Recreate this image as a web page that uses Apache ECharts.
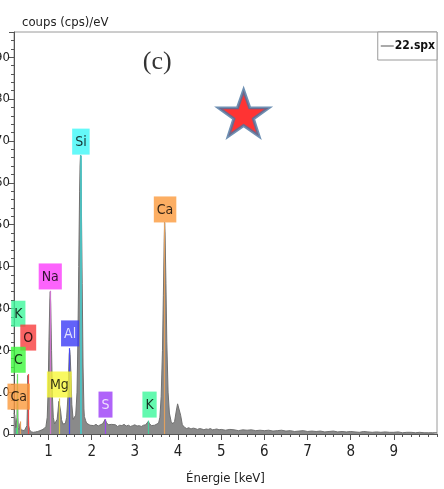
<!DOCTYPE html>
<html>
<head>
<meta charset="utf-8">
<script src="https://cdn.jsdelivr.net/npm/echarts@6/dist/echarts.min.js"></script>
<style>html,body{margin:0;padding:0;background:#fff}#c{width:444px;height:489px}</style>
</head>
<body>
<div id="c"></div>
<script>
// ---- data ----
const energies = [0.20,0.22,0.24,0.26,0.27,0.28,0.29,0.30,0.32,0.34,0.36,0.40,0.44,0.48,0.50,0.51,0.52,0.53,0.54,0.56,0.60,0.65,0.70,0.75,0.80,0.85,0.90,0.94,0.97,0.99,1.01,1.03,1.04,1.05,1.07,1.09,1.11,1.14,1.17,1.20,1.22,1.24,1.25,1.26,1.28,1.30,1.33,1.36,1.39,1.42,1.45,1.47,1.48,1.49,1.50,1.52,1.54,1.57,1.60,1.63,1.66,1.68,1.70,1.72,1.73,1.74,1.75,1.76,1.78,1.80,1.82,1.83,1.84,1.86,1.88,1.92,1.96,2.00,
2.05,2.10,2.15,2.20,2.25,2.28,2.31,2.34,2.38,2.42,2.46,2.50,2.55,2.60,2.65,2.70,2.75,2.80,2.85,2.90,2.95,3.00,3.05,3.10,3.15,3.20,3.25,3.28,3.31,3.34,3.38,3.42,3.46,3.50,3.55,
3.58,3.61,3.64,3.66,3.68,3.69,3.70,3.72,3.74,3.77,3.80,3.84,3.88,3.92,3.96,3.99,4.01,4.03,4.06,4.10,
4.15,4.20,4.25,4.30,4.35,4.40,4.45,4.50,4.55,4.60,4.65,4.70,4.75,4.80,4.85,4.90,4.95,5.00,5.1,5.2,5.3,5.4,5.5,5.6,5.7,5.8,5.9,6.0,6.1,6.2,6.3,6.4,6.5,6.6,6.7,6.8,6.9,7.0,7.1,7.2,7.3,7.4,7.5,7.6,7.7,7.8,7.9,8.0,8.1,8.2,8.3,8.4,8.5,8.6,8.7,8.8,8.9,9.0,9.1,9.2,9.3,9.4,9.5,9.6,9.7,9.8,9.9,10.0];
const counts = [5,4.5,1.5,1.2,4,13,4,1.5,1,2.5,1,0.6,0.8,1,2,6,14,6,2,1,0.5,0.4,0.5,0.6,0.8,1.0,1.3,1.8,4,10,22,32,34,31,20,9,4,2.4,2.6,3.5,5.5,7.8,8.2,7.8,5.5,3.5,2.4,2.0,2.5,4,9,16,19,20,19,14,7,3.5,3.2,4.5,10,22,40,58,64,66.5,64,56,36,16,6,4.2,4,3.2,2.6,2.3,2.1,2.3,
2.0,2.3,1.9,2.2,2.4,2.9,3.5,2.8,2.2,1.9,2.3,2.0,2.2,1.8,2.1,2.0,2.3,1.9,2.1,1.8,2.0,2.2,1.9,2.0,1.8,2.1,2.2,2.6,3.0,2.5,2.0,1.9,2.1,2.2,2.6,
4,9,20,33,46,50.5,48,36,22,10,5,3,2.4,3,5.5,7.2,7.5,7,4.5,2.2,
1.6,1.3,1.5,1.2,1.4,1.3,1.1,1.3,1.2,1.0,1.2,1.1,1.3,1.0,1.1,1.2,1.0,1.1,0.9,1.1,1.0,0.8,1.0,0.9,1.0,0.8,0.9,0.8,0.9,0.7,0.8,0.9,0.7,0.8,0.6,0.7,0.8,0.6,0.7,0.6,0.7,0.5,0.6,0.7,0.5,0.6,0.5,0.6,0.5,0.4,0.6,0.5,0.4,0.5,0.4,0.5,0.4,0.4,0.5,0.3,0.4,0.4,0.3,0.4,0.3,0.3,0.3,0.3];

const elements       = ['Si','Ca','Na','Al','Mg','S','K','K','O','C','Ca'];
const lineEnergies   = [1.74,3.69,1.04,1.49,1.25,2.31,3.31,0.26,0.525,0.28,0.34];
const lineHeights    = [66.5,50.5,34.2,20.5,8.5,3.5,3.2,1.5,14.3,14.3,3];
const labelEnergies  = [1.75,3.70,1.04,1.50,1.25,2.32,3.34,0.30,0.53,0.30,0.31];
const labelHeights   = [66.6,50.4,34.4,20.8,8.6,3.8,3.8,25.5,19.8,14.5,5.7];

const yTicks = [0,10,20,30,40,50,60,70,80,90];
const xTickLabels = [1,2,3,4,5,6,7,8,9];
const seriesName = '22.spx';
const panelTag = '(c)';
const tagPos = [3.52, 88.8];
const starPos = [5.52, 76.6];

// ---- styles ----
const styles = {
  Si: {bg:'#3ff7f7', fg:'#000', line:'#4cc4c4'},
  Ca: {bg:'#fb9a3c', fg:'#000', line:'#e0a060'},
  Na: {bg:'#fb3cfb', fg:'#000', line:'#cc77cc'},
  Al: {bg:'#3b3bf6', fg:'#fff', line:'#4848f0'},
  Mg: {bg:'#f7f73a', fg:'#000', line:'#d4cc48'},
  S:  {bg:'#9b3cf7', fg:'#fff', line:'#9a48f0'},
  K:  {bg:'#3cf79b', fg:'#000', line:'#44cc99'},
  O:  {bg:'#f73c3c', fg:'#000', line:'#f04848'},
  C:  {bg:'#3cf73c', fg:'#000', line:'#66e066'}
};
const FONT = "'DejaVu Sans Condensed','Liberation Sans Narrow','Open Sans',sans-serif";

const spectrum = energies.map((e,i)=>[e, counts[i]]);
const markLines = elements.map((el,i)=>[
  {coord:[lineEnergies[i],0], lineStyle:{color:styles[el].line, width: el==='Si'?1.8:1.2, type:'solid'}},
  {coord:[lineEnergies[i],lineHeights[i]]}
]);
const labelData = elements.map((el,i)=>({
  value:[labelEnergies[i], labelHeights[i]],
  label:{show:true, formatter: el, backgroundColor: styles[el].bg, color: styles[el].fg}
}));

const chart = echarts.init(document.getElementById('c'), null, {renderer:'canvas'});
chart.setOption({
  animation:false,
  backgroundColor:'#fff',
  title:{text:'coups (cps)/eV', left:17, top:11,
    textStyle:{fontFamily:FONT, fontSize:13, fontWeight:'normal', color:'#222'}},
  legend:{data:[seriesName], right:7, top:32, orient:'vertical',
    borderColor:'#9a9a9a', borderWidth:1, borderRadius:0, backgroundColor:'#fff',
    padding:[8,2,8,3], itemWidth:13, itemHeight:1, itemGap:0, icon:'rect',
    textStyle:{fontFamily:FONT, fontSize:12, fontWeight:'bold', color:'#111', padding:[0,0,0,-4]}},
  grid:{left:14, right:7, top:32, bottom:55, containLabel:false, outerBoundsMode:'none',
    show:true, borderColor:'#9a9a9a', borderWidth:1},
  xAxis:[{
    type:'value', min:0.2, max:10, interval:0.2,
    axisLine:{show:true, onZero:false, lineStyle:{color:'#555'}},
    axisTick:{show:true, length:3, lineStyle:{color:'#555'}},
    axisLabel:{show:false}, splitLine:{show:false}
  },{
    type:'value', min:0.2, max:10, position:'bottom',
    axisLine:{show:false},
    axisTick:{show:true, length:6, customValues:xTickLabels, lineStyle:{color:'#555'}},
    axisLabel:{show:true, customValues:xTickLabels, fontFamily:FONT, fontSize:15, color:'#222', margin:11},
    splitLine:{show:false},
    name:'Énergie [keV]', nameLocation:'middle', nameGap:38,
    nameTextStyle:{fontFamily:FONT, fontSize:13, color:'#222'}
  }],
  yAxis:{
    type:'value', min:0, max:96, interval:10,
    axisLine:{show:true, lineStyle:{color:'#555'}},
    axisTick:{show:true, length:5, lineStyle:{color:'#555'}},
    minorTick:{show:true, splitNumber:5, length:3, lineStyle:{color:'#555'}},
    axisLabel:{fontFamily:FONT, fontSize:13, color:'#222', margin:4,
      customValues: yTicks},
    splitLine:{show:false}
  },
  series:[{
    name:seriesName, type:'line', data:spectrum, symbol:'none', z:2,
    lineStyle:{color:'#707070', width:1},
    itemStyle:{color:'#555'},
    areaStyle:{color:'#8a8a8a', opacity:1}
  },{
    name:'labels', type:'scatter', data:labelData, symbolSize:1, z:5,
    itemStyle:{color:'rgba(0,0,0,0)'},
    label:{show:true, position:'top', distance:0, fontFamily:FONT, fontSize:14,
      padding:[6,3,5,3], lineHeight:15},
    markLine:{silent:true, symbol:['none','none'], label:{show:false}, data:markLines, z:4, animation:false}
  },{
    name:'star', type:'scatter', data:[starPos], z:6,
    symbol:'path://M50,0 L61.8,35 L98,35 L68.8,56.6 L79.4,91 L50,70 L20.6,91 L31.2,56.6 L2,35 L38.2,35 Z',
    symbolSize:[50,46],
    itemStyle:{color:'#ff0000', borderColor:'#4a74a0', borderWidth:3}
  },{
    name:'tag', type:'scatter', data:[tagPos], symbolSize:1, z:6,
    itemStyle:{color:'rgba(0,0,0,0)'},
    label:{show:true, position:'inside', formatter:panelTag,
      fontFamily:"'Liberation Serif','DejaVu Serif',serif", fontSize:26, color:'#000'}
  }]
});
</script>
</body>
</html>
